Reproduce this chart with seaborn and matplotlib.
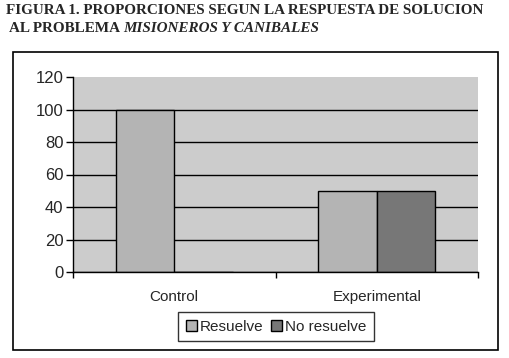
import matplotlib
matplotlib.use("Agg")
import matplotlib.pyplot as plt
import matplotlib.patches as mpatches
import pandas as pd
import seaborn as sns

# ── Data ──────────────────────────────────────────────────────────────────────
groups = ["Control", "Experimental"]
series = ["Resuelve", "No resuelve"]
resuelve = [100, 50]
no_resuelve = [0, 50]
yticks = [0, 20, 40, 60, 80, 100, 120]
colors = ["#b4b4b4", "#777777"]

df = pd.DataFrame({
    "grupo": groups * 2,
    "respuesta": [series[0]] * 2 + [series[1]] * 2,
    "valor": resuelve + no_resuelve,
})

sns.set_theme(style="white")
plt.rcParams["font.family"] = ["Liberation Sans", "DejaVu Sans"]

fig = plt.figure(figsize=(5.09, 3.58), dpi=100)
ax = fig.add_axes([73 / 509, 1 - 272 / 358, 405 / 509, 195 / 358])

sns.barplot(data=df, x="grupo", y="valor", hue="respuesta", order=groups,
            hue_order=series, palette=colors, width=0.58, edgecolor="black",
            linewidth=1, saturation=1, ax=ax, legend=True)

ax.set_facecolor("#cccccc")
ax.set_ylim(0, 120)
ax.set_xlim(-0.5, 1.5)
ax.set_yticks(yticks)
ax.set_axisbelow(True)
ax.yaxis.grid(True, color="black", linewidth=1)
ax.yaxis.get_gridlines()[-1].set_visible(False)
ax.set_xlabel("")
ax.set_ylabel("")
for side in ["top", "right"]:
    ax.spines[side].set_visible(False)
for side in ["left", "bottom"]:
    ax.spines[side].set_color("black")
    ax.spines[side].set_linewidth(1)
ax.tick_params(axis="y", left=True, length=5, width=1, color="black",
               labelsize=12, pad=2)
ax.tick_params(axis="x", length=0, labelsize=11, pad=13)
ax.set_xticks([-0.5, 0.5, 1.5], minor=True)
ax.tick_params(axis="x", which="minor", bottom=True, length=4, width=1,
               color="black")

# legend below the categories
handles, labels = ax.get_legend_handles_labels()
ax.get_legend().remove()
fig.legend(handles, labels, ncol=2, loc="upper center",
           bbox_to_anchor=(276 / 509, 1 - 312 / 358), frameon=True,
           fancybox=False, edgecolor="black", fontsize=11,
           handlelength=0.7, handleheight=0.7, handletextpad=0.2,
           columnspacing=0.5, borderpad=0.5, borderaxespad=0)
fig.legends[0].get_frame().set_linewidth(1)

# outer frame
fig.patches.append(mpatches.Rectangle((13 / 509, 1 - 350 / 358), 485 / 509,
                                      298 / 358, transform=fig.transFigure,
                                      fill=False, edgecolor="black", lw=1.2))

# title, second line mixes upright and italic
serif = ["Liberation Serif", "DejaVu Serif"]
fig.text(6 / 509, 1 - 10 / 358,
         "FIGURA 1. PROPORCIONES SEGUN LA RESPUESTA DE SOLUCION",
         family=serif, weight="bold", fontsize=10.9, va="center", ha="left")
t = fig.text(9 / 509, 1 - 29 / 358, "AL PROBLEMA ", family=serif,
             weight="bold", fontsize=10.9, va="center", ha="left")
fig.canvas.draw()
bb = t.get_window_extent().transformed(fig.transFigure.inverted())
fig.text(bb.x1, 1 - 29 / 358, "MISIONEROS Y CANIBALES", family=serif,
         weight="bold", style="italic", fontsize=10.9, va="center", ha="left")

fig.savefig("out.png", dpi=100)
